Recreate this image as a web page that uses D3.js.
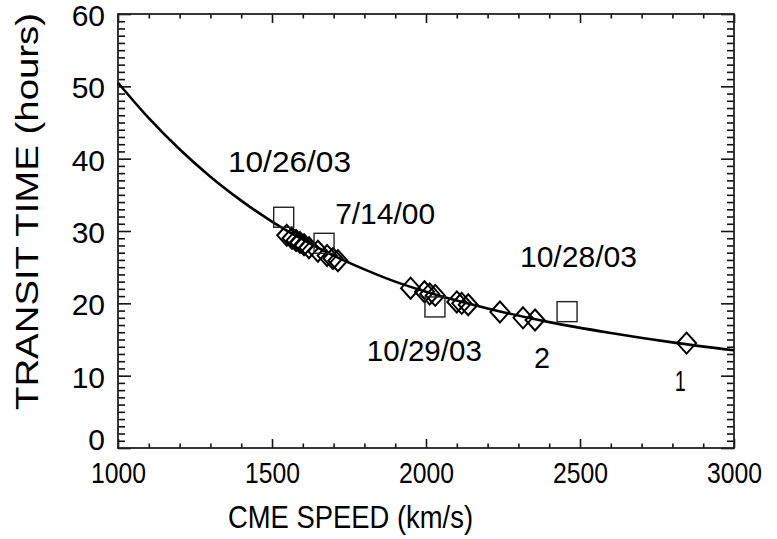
<!DOCTYPE html>
<html>
<head>
<meta charset="utf-8">
<script src="https://cdn.jsdelivr.net/npm/d3@7"></script>
<style>
  body { margin: 0; background: #fff; }
  svg text { font-family: "Liberation Sans", Arial, Helvetica, sans-serif; fill: #000; }
</style>
</head>
<body>
<svg id="canvas"></svg>
<script>
// fitted transit-time curve
let curveSpeed = [1000, 1100, 1200, 1300, 1400, 1500, 1600, 1700, 1800, 1900, 2000, 2200, 2400, 2600, 2800, 3000];
let curveTime  = [50.5, 45.6, 41.3, 37.5, 34.2, 31.3, 28.8, 26.6, 24.7, 23.0, 21.6, 19.3, 17.4, 15.9, 14.6, 13.5];

// events (diamonds)
let eventSpeed = [1548, 1565, 1578, 1591, 1604, 1620, 1649, 1679, 1698, 1714,
                  1950, 1995, 2012, 2030, 2100, 2116, 2137, 2240, 2315, 2354, 2846];
let eventTime  = [29.4, 29.0, 28.7, 28.4, 28.1, 27.7, 27.2, 26.6, 26.2, 25.9,
                  22.1, 21.6, 21.3, 21.1, 20.2, 20.0, 19.8, 18.8, 18.0, 17.7, 14.5];

// named events (squares)
let caseSpeed = [1538, 1669, 2029, 2458];
let caseTime  = [31.9, 28.3, 19.5, 18.85];

// annotations: text, speed at left edge, time at baseline
let noteText  = ['10/26/03', '7/14/00', '10/28/03', '10/29/03', '2', '1'];
let noteSpeed = [1357, 1705, 2305, 1808, 2351, 2808];
let noteTime  = [38.2, 31.0, 25.0, 12.0, 11.1, 7.9];
let noteWidth = [123, 100, 117, 115, 16, 11];

let speedTicks = [1000, 1500, 2000, 2500, 3000];
let timeTicks = [0, 10, 20, 30, 40, 50, 60];
let speedMinor = d3.range(1000, 3001, 100).filter(v => v % 500 !== 0);
let timeMinor = d3.range(0, 61, 1).filter(v => v % 10 !== 0);

let w = 777;
let h = 539;
let padL = 118, padR = 734, padT = 14, padB = 448;

let canvas = d3.select('#canvas').attr('width', w).attr('height', h);

let xScale = d3.scaleLinear().domain([1000, 3000]).range([padL, padR]);
let yScale = d3.scaleLinear().domain([0, 60]).range([padB, padT]);

const styleAxis = g => {
  g.select('.domain').remove();
  g.selectAll('.tick line').attr('stroke', '#111').attr('stroke-width', 1.6);
};

// minor ticks, all four sides
canvas.append('g').attr('transform', 'translate(0,' + padB + ')')
  .call(d3.axisTop(xScale).tickValues(speedMinor).tickSize(4.5).tickFormat('')).call(styleAxis);
canvas.append('g').attr('transform', 'translate(0,' + padT + ')')
  .call(d3.axisBottom(xScale).tickValues(speedMinor).tickSize(4.5).tickFormat('')).call(styleAxis);
canvas.append('g').attr('transform', 'translate(' + padL + ',0)')
  .call(d3.axisRight(yScale).tickValues(timeMinor).tickSize(7).tickFormat('')).call(styleAxis);
canvas.append('g').attr('transform', 'translate(' + padR + ',0)')
  .call(d3.axisLeft(yScale).tickValues(timeMinor).tickSize(7).tickFormat('')).call(styleAxis);

// major ticks
canvas.append('g').attr('transform', 'translate(0,' + padB + ')')
  .call(d3.axisTop(xScale).tickValues(speedTicks).tickSize(9).tickFormat('')).call(styleAxis);
canvas.append('g').attr('transform', 'translate(0,' + padT + ')')
  .call(d3.axisBottom(xScale).tickValues(speedTicks).tickSize(9).tickFormat('')).call(styleAxis);
canvas.append('g').attr('transform', 'translate(' + padL + ',0)')
  .call(d3.axisRight(yScale).tickValues(timeTicks).tickSize(13).tickFormat('')).call(styleAxis);
canvas.append('g').attr('transform', 'translate(' + padR + ',0)')
  .call(d3.axisLeft(yScale).tickValues(timeTicks).tickSize(13).tickFormat('')).call(styleAxis);

// tick labels
let xLabels = canvas.append('g').attr('transform', 'translate(0,' + padB + ')')
  .call(d3.axisBottom(xScale).tickValues(speedTicks).tickSize(0).tickPadding(0).tickFormat(d3.format('d')));
xLabels.select('.domain').remove();
xLabels.selectAll('text')
  .attr('y', 35).attr('dy', null)
  .attr('font-size', 29).attr('fill', '#000')
  .attr('textLength', 55).attr('lengthAdjust', 'spacingAndGlyphs');

let yLabels = canvas.append('g').attr('transform', 'translate(' + padL + ',0)')
  .call(d3.axisLeft(yScale).tickValues(timeTicks).tickSize(0).tickPadding(13).tickFormat(d3.format('d')));
yLabels.select('.domain').remove();
yLabels.selectAll('text')
  .attr('font-size', 30).attr('fill', '#000')
  .attr('dy', d => d === 0 ? '0.05em' : '0.38em');

// frame
canvas.append('rect')
  .attr('x', padL).attr('y', padT)
  .attr('width', padR - padL).attr('height', padB - padT)
  .attr('fill', 'none').attr('stroke', '#222').attr('stroke-width', 1.8);

// curve
let line = d3.line()
  .x(d => xScale(d[0]))
  .y(d => yScale(d[1]))
  .curve(d3.curveMonotoneX);

canvas.append('path')
  .datum(d3.zip(curveSpeed, curveTime))
  .attr('d', line)
  .attr('fill', 'none')
  .attr('stroke', '#000')
  .attr('stroke-width', 2.6);

// diamonds
canvas.append('g').selectAll('path')
  .data(d3.zip(eventSpeed, eventTime))
  .enter()
  .append('path')
  .attr('transform', d => 'translate(' + xScale(d[0]) + ',' + yScale(d[1]) + ')')
  .attr('d', 'M0,-10.5L9.5,0L0,10.5L-9.5,0Z')
  .attr('fill', 'none')
  .attr('stroke', '#000')
  .attr('stroke-width', 2);

// squares
canvas.append('g').selectAll('rect')
  .data(d3.zip(caseSpeed, caseTime))
  .enter()
  .append('rect')
  .attr('x', d => xScale(d[0]) - 10)
  .attr('y', d => yScale(d[1]) - 10)
  .attr('width', 20)
  .attr('height', 20)
  .attr('fill', 'none')
  .attr('stroke', '#222')
  .attr('stroke-width', 1.4);

// annotations
canvas.append('g').selectAll('text')
  .data(d3.range(noteText.length))
  .enter()
  .append('text')
  .attr('x', i => xScale(noteSpeed[i]))
  .attr('y', i => yScale(noteTime[i]))
  .attr('font-size', 30)
  .attr('textLength', i => noteWidth[i])
  .attr('lengthAdjust', 'spacingAndGlyphs')
  .text(i => noteText[i]);

// axis titles
canvas.append('text')
  .attr('x', 228).attr('y', 528)
  .attr('font-size', 32)
  .attr('textLength', 245).attr('lengthAdjust', 'spacingAndGlyphs')
  .text('CME SPEED (km/s)');

canvas.append('text')
  .attr('transform', 'translate(38,410) rotate(-90)')
  .attr('font-size', 31)
  .attr('textLength', 397).attr('lengthAdjust', 'spacingAndGlyphs')
  .text('TRANSIT TIME (hours)');
</script>
</body>
</html>
